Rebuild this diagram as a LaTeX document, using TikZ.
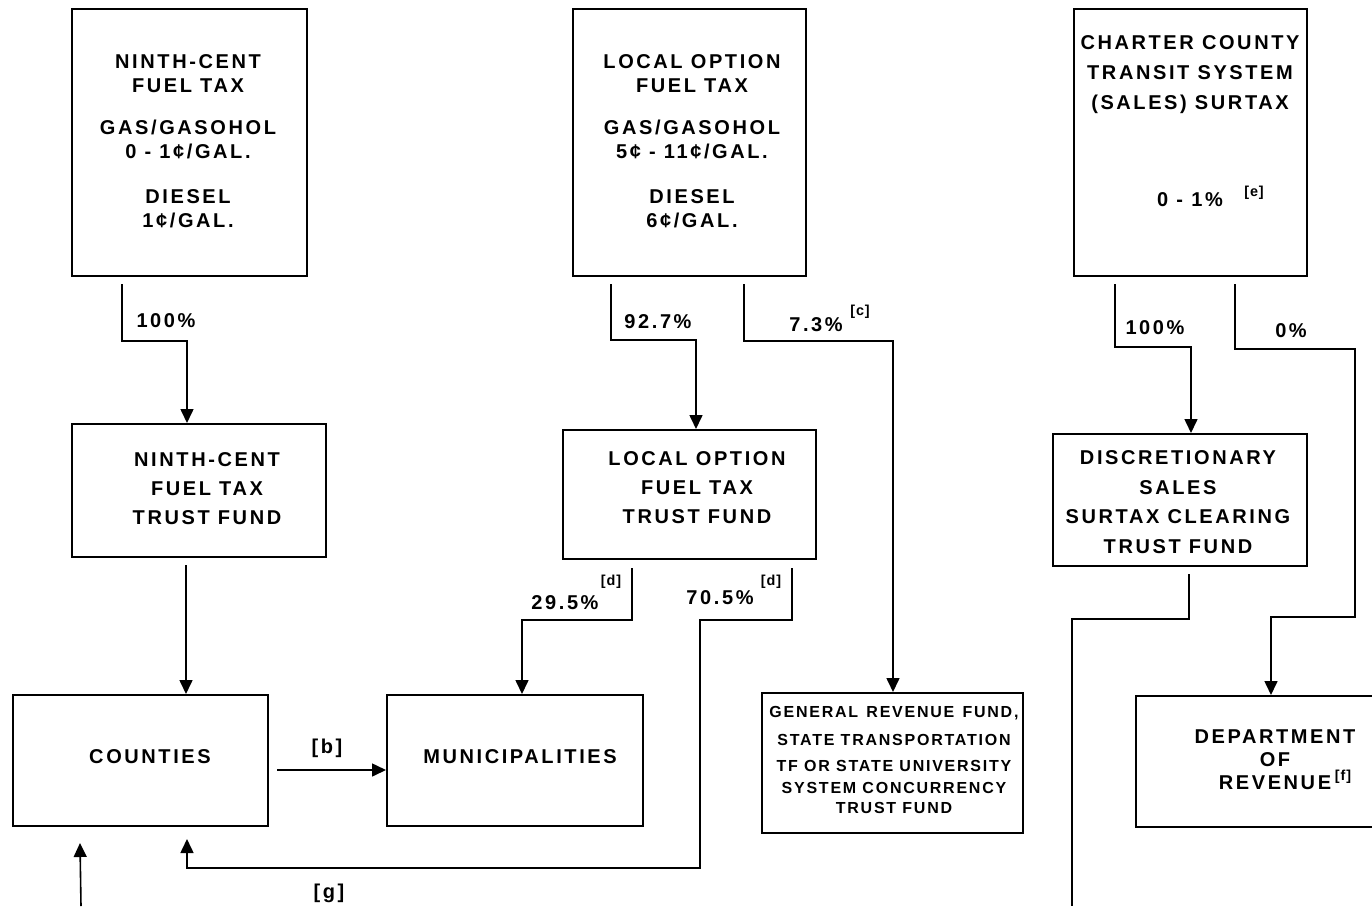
\documentclass[tikz,border=0pt]{standalone}
\usepackage{fontspec}
\setmainfont{Liberation Sans}[LetterSpace=13]
\usetikzlibrary{arrows.meta,calc,fit}

\tikzset{
  box/.style={draw, line width=1pt, inner sep=0pt},
  txt/.style={font=\bfseries\fontsize{10}{12}\selectfont, align=center, inner sep=0pt},
  small/.style={font=\bfseries\fontsize{8}{10}\selectfont\addfontfeatures{LetterSpace=11}, align=center, inner sep=0pt},
  note/.style={font=\bfseries\fontsize{7.2}{8}\selectfont\addfontfeatures{LetterSpace=6}, inner sep=0pt},
  flow/.style={line width=0.8pt, -{Triangle[length=7pt,width=6.5pt]}},
  wire/.style={line width=0.8pt},
}

\begin{document}
\begin{tikzpicture}[x=0.5pt, y=-0.5pt]
\fill[white] (0,0) rectangle (1372,906);
\clip (0,0) rectangle (1372,906);

% tax sources
\node[box, fit={(72,9) (307,276)}] (b1) {};
\node[box, fit={(573,9) (806,276)}] (b2) {};
\node[box, fit={(1074,9) (1307,276)}] (b3) {};
\node[txt] (t1) at (188,141) {NINTH-CENT\\FUEL TAX\\[9pt]GAS/GASOHOL\\0 - 1¢/GAL.\\[10.5pt]DIESEL\\1¢/GAL.};
\node[txt] (t2) at (692,141) {LOCAL OPTION\\FUEL TAX\\[9pt]GAS/GASOHOL\\5¢ - 11¢/GAL.\\[10.5pt]DIESEL\\6¢/GAL.};
\node[txt, font=\bfseries\fontsize{10}{15}\selectfont] (t3) at (1190,75) {CHARTER COUNTY\\TRANSIT SYSTEM\\(SALES) SURTAX};
\node[txt] (t3r) at (1190,200) {0 - 1\%};
\node[note] (t3e) at (1254,193) {[e]};

% trust funds
\node[box, fit={(72,424) (326,557)}] (b4) {};
\node[box, fit={(563,430) (816,559)}] (lt) {};
\node[box, fit={(1053,434) (1307,566)}] (dss) {};
\node[txt, font=\bfseries\fontsize{10}{14.5}\selectfont] (t4) at (207,489) {NINTH-CENT\\FUEL TAX\\TRUST FUND};
\node[txt, font=\bfseries\fontsize{10}{14.5}\selectfont] (t5) at (697,488) {LOCAL OPTION\\FUEL TAX\\TRUST FUND};
\node[txt, font=\bfseries\fontsize{10}{14.8}\selectfont] (t6) at (1178,502) {DISCRETIONARY\\SALES\\SURTAX CLEARING\\TRUST FUND};

% recipients
\node[box, fit={(13,695) (268,826)}] (cty) {};
\node[box, fit={(387,695) (643,826)}] (muni) {};
\node[box, fit={(762,693) (1023,833)}] (grf) {};
\node[box, fit={(1136,696) (1392,827)}] (dor) {};
\node[txt] (t7) at (150,757) {COUNTIES};
\node[txt] (t8) at (520,757) {MUNICIPALITIES};
\node[small] (t9) at (894,760) {GENERAL\hspace{1pt} REVENUE\hspace{1pt} FUND,\\[4pt]STATE TRANSPORTATION\\[3pt]TF OR STATE UNIVERSITY\\[1pt]SYSTEM CONCURRENCY\\TRUST FUND};
\node[txt, font=\bfseries\fontsize{10}{11.5}\selectfont] (t10) at (1275,760) {DEPARTMENT\\OF\\REVENUE};
\node[note] (t10f) at (1343,777) {[f]};

% distribution shares
\node[txt] (l1) at (166,321) {100\%};
\node[txt] (l2) at (658,322) {92.7\%};
\node[txt] (l3) at (816,325) {7.3\%};
\node[note] (l3c) at (860,312) {[c]};
\node[txt] (l4) at (565,603) {29.5\%};
\node[note] (l4d) at (611,582) {[d]};
\node[txt] (l5) at (720,598) {70.5\%};
\node[note] (l5d) at (771,582) {[d]};
\node[txt] (l6) at (327,748) {[b]};
\node[txt] (l7) at (329,893) {[g]};
\node[txt] (l8) at (1155,328) {100\%};
\node[txt] (l9) at (1291,331) {0\%};

% connectors
\coordinate (k1) at (187,341);
\draw[flow] ($(b1.south west)+(51,7)$) |- (k1) -- (k1 |- b4.north);
\coordinate (k2) at ($(b4.south west)+(115,7)$);
\draw[flow] (k2) -- (k2 |- cty.north);
\coordinate (k3) at ($(cty.south east)+(8,-57)$);
\draw[flow] (k3) -- (k3 -| muni.west);
\coordinate (k4) at (696,340);
\draw[flow] ($(b2.south west)+(39,7)$) |- (k4) -- (k4 |- lt.north);
\coordinate (k5) at (893,341);
\draw[flow] ($(b2.south west)+(172,7)$) |- (k5) -- (k5 |- grf.north);
\coordinate (k6) at (522,620);
\draw[flow] ($(lt.south west)+(70,8)$) |- (k6) -- (k6 |- muni.north);
\coordinate (k7a) at (700,620);
\coordinate (k7b) at (700,868);
\draw[flow] ($(lt.south west)+(230,8)$) |- (k7a) -- (k7b) -| ($(cty.south west)+(175,12)$);
\coordinate (in1) at (81,906);
\draw[flow] (in1) -- ($(cty.south west)+(68,16)$);
\coordinate (k9) at (1191,347);
\draw[flow] ($(b3.south west)+(42,7)$) |- (k9) -- (k9 |- dss.north);
\coordinate (k10a) at (1355,349);
\coordinate (k10b) at (1271,617);
\draw[flow] ($(b3.south west)+(162,7)$) |- (k10a) |- (k10b) -- (k10b |- dor.north);
\coordinate (k11a) at (1072,619);
\coordinate (k11) at (1072,906);
\draw[wire] ($(dss.south west)+(137,7)$) |- (k11a) -- (k11);
\end{tikzpicture}
\end{document}
